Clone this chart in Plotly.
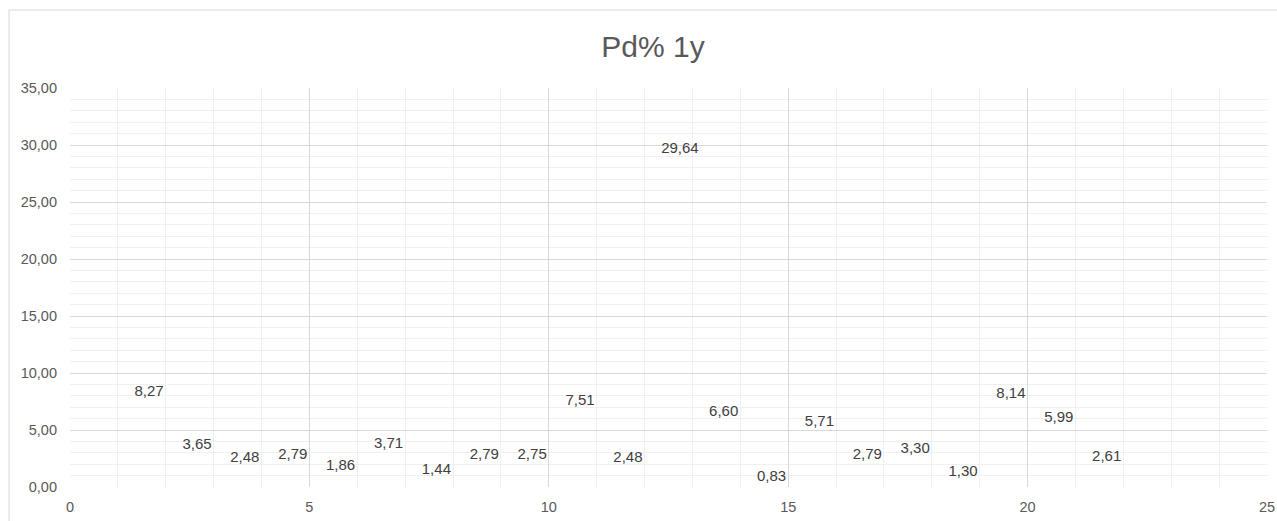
import plotly.graph_objects as go

# Data
x_vals = list(range(1, 22))
pd_values = [8.27, 3.65, 2.48, 2.79, 1.86, 3.71, 1.44, 2.79, 2.75, 7.51, 2.48,
             29.64, 6.60, 0.83, 5.71, 2.79, 3.30, 1.30, 8.14, 5.99, 2.61]
title_text = "Pd% 1y"

W, H = 1277, 521
L, R, T, B = 70, 10, 88, 34
pw, ph = W - L - R, H - T - B

fig = go.Figure()
fig.add_trace(go.Scatter(
    x=x_vals, y=pd_values,
    mode="markers+text",
    marker=dict(size=25, color="rgba(0,0,0,0)"),
    texttemplate="%{y:.2f}",
    textposition="middle right",
    textfont=dict(family="Liberation Sans, Arial, sans-serif", size=15, color="#404040"),
    showlegend=False,
    hoverinfo="skip",
    cliponaxis=False,
))

axis_font = dict(family="Liberation Sans, Arial, sans-serif", size=14.5, color="#595959")

fig.update_layout(
    width=W, height=H,
    margin=dict(l=L, r=R, t=T, b=B, autoexpand=False),
    paper_bgcolor="white", plot_bgcolor="white",
    separators=", ",
    title=dict(text=title_text, x=653 / W, xanchor="center", y=1 - 46 / H, yanchor="middle",
               xref="container", yref="container",
               font=dict(family="Liberation Sans, Arial, sans-serif", size=30, color="#595959")),
    xaxis=dict(range=[0, 25], dtick=5, tick0=0, showgrid=True, gridcolor="#d9d9d9", gridwidth=1,
               minor=dict(dtick=1, showgrid=True, gridcolor="#f0f0f0", gridwidth=1),
               zeroline=False, showline=False, ticks="", tickfont=axis_font,
               ticklabelstandoff=9, ticklabeloverflow="allow", automargin=False, fixedrange=True),
    yaxis=dict(range=[0, 35], dtick=5, tick0=0, tickformat=".2f", showgrid=True,
               gridcolor="#d9d9d9", gridwidth=1,
               minor=dict(dtick=1, showgrid=True, gridcolor="#f0f0f0", gridwidth=1),
               zeroline=False, showline=False, ticks="", tickfont=axis_font,
               ticklabelstandoff=12, ticklabeloverflow="allow", automargin=False, fixedrange=True),
    shapes=[dict(type="rect", xref="paper", yref="paper",
                 x0=(9 - L) / pw, x1=(W + 30 - L) / pw,
                 y0=-(30 + B) / ph, y1=(H - B - 10) / ph,
                 line=dict(color="#d9d9d9", width=1), fillcolor="rgba(0,0,0,0)", layer="below")],
)

fig.write_html("out.html", config={"displayModeBar": False},
               post_script="document.body.style.margin='0';")
